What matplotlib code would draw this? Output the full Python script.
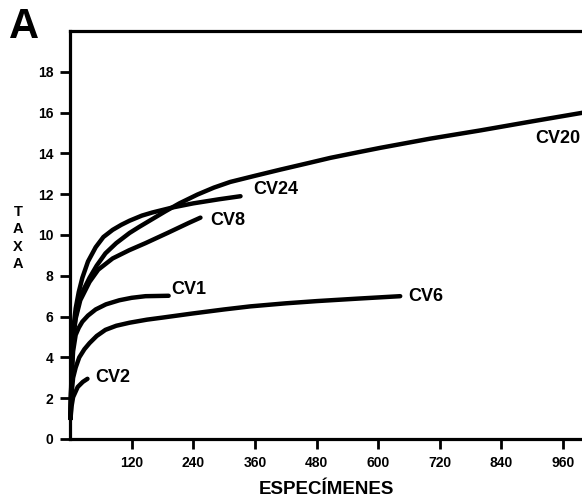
import matplotlib
matplotlib.use("Agg")
import matplotlib.pyplot as plt

plt.rcParams['font.family'] = ['Liberation Sans', 'DejaVu Sans']

# Data (specimens vs taxa)
cv20_x = [1, 3, 6, 11, 20, 38, 52, 69, 90, 116, 135, 155, 185, 213, 248, 280, 312,
          360, 409, 460, 507, 560, 604, 701, 800, 900, 1000]
cv20_y = [1, 3.3, 5, 6.0, 7.0, 7.9, 8.5, 9.1, 9.6, 10.1, 10.4, 10.7, 11.15, 11.55, 11.98,
          12.32, 12.6, 12.9, 13.2, 13.5, 13.78, 14.05, 14.27, 14.72, 15.13, 15.57, 16.0]
cv24_x = [1, 3, 6, 11, 17, 24, 35, 50, 65, 83, 100, 116, 140, 160, 200, 240, 290, 332]
cv24_y = [1, 3.5, 5.3, 6.4, 7.2, 7.9, 8.7, 9.4, 9.9, 10.25, 10.5, 10.7, 10.95, 11.1,
          11.35, 11.55, 11.75, 11.9]
cv8_x = [1, 3, 6, 11, 20, 38, 55, 83, 115, 147, 190, 232, 254]
cv8_y = [1, 3.2, 4.9, 5.9, 6.8, 7.7, 8.3, 8.85, 9.25, 9.6, 10.1, 10.6, 10.85]
cv1_x = [1, 3, 6, 11, 17, 24, 35, 50, 70, 96, 120, 147, 192]
cv1_y = [1, 3, 4.3, 5.1, 5.45, 5.75, 6.05, 6.35, 6.6, 6.8, 6.92, 7.0, 7.02]
cv6_x = [1, 3, 6, 11, 18, 28, 38, 52, 69, 90, 116, 150, 180, 238, 300, 351, 420,
         481, 560, 643]
cv6_y = [1, 2.2, 3.0, 3.5, 4.0, 4.4, 4.7, 5.05, 5.35, 5.55, 5.7, 5.85, 5.95, 6.15,
         6.35, 6.5, 6.65, 6.76, 6.88, 7.0]
cv2_x = [1, 3, 6, 15, 25, 34]
cv2_y = [1, 1.6, 2.05, 2.55, 2.8, 2.95]

labels = ["CV20", "CV24", "CV8", "CV1", "CV6", "CV2"]
label_x = [905, 356, 273, 197, 658, 50]
label_y = [14.75, 12.25, 10.7, 7.35, 7.0, 3.0]

x_ticks = [120, 240, 360, 480, 600, 720, 840, 960]
y_ticks = [0, 2, 4, 6, 8, 10, 12, 14, 16, 18]

fig = plt.figure(figsize=(5.82, 4.98), dpi=100)
ax = fig.add_axes([0.1203, 0.1185, 0.8797, 0.8193])

for xs, ys in [(cv20_x, cv20_y), (cv24_x, cv24_y), (cv8_x, cv8_y),
               (cv1_x, cv1_y), (cv6_x, cv6_y), (cv2_x, cv2_y)]:
    ax.plot(xs, ys, color='black', lw=3.2, solid_capstyle='round',
            solid_joinstyle='round', clip_on=False)

for t, lx, ly in zip(labels, label_x, label_y):
    ax.text(lx, ly, t, fontsize=13, fontweight='bold', va='center', ha='left')

ax.set_xlim(0, 997)
ax.set_ylim(0, 20)
ax.set_xticks(x_ticks)
ax.set_xticklabels([str(v) for v in x_ticks])
ax.set_yticks(y_ticks)
ax.set_yticklabels([str(v) for v in y_ticks])
ax.spines['right'].set_visible(False)
for s in ['left', 'bottom', 'top']:
    ax.spines[s].set_linewidth(2.3)
ax.tick_params(axis='both', direction='out', width=2, length=7,
               labelsize=10, pad=5)
for lab in ax.get_xticklabels() + ax.get_yticklabels():
    lab.set_fontweight('bold')

ax.set_xlabel('ESPECÍMENES', fontsize=13.5, fontweight='bold', labelpad=8)
fig.text(0.031, 0.522, 'T\nA\nX\nA', fontsize=10.5, fontweight='bold',
         ha='center', va='center', linespacing=1.3)
fig.text(0.015, 0.945, 'A', fontsize=30, fontweight='bold', ha='left', va='center')

fig.savefig('out.png', dpi=100)
